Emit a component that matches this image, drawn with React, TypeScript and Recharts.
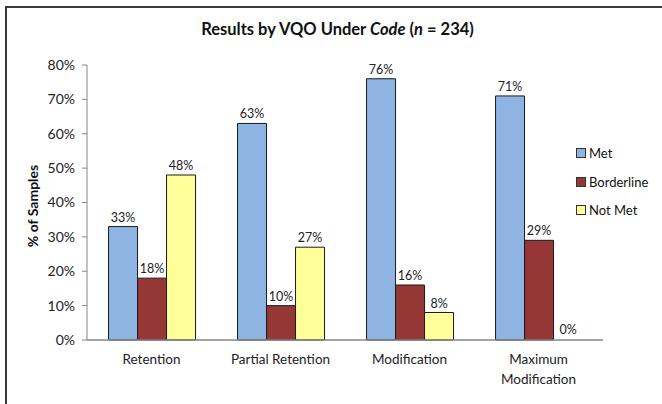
import React from "react";
import { BarChart, Bar, XAxis, YAxis, LabelList, Label, Rectangle } from "recharts";

const categories = ["Retention", "Partial Retention", "Modification", "Maximum Modification"];
const met = [33, 63, 76, 71];
const borderline = [18, 10, 16, 29];
const notMet = [48, 27, 8, 0];
const yTicks = [0, 10, 20, 30, 40, 50, 60, 70, 80];
const boundaryTicks = [0, 1, 2, 3, 4];

const seriesInfo = [
  { key: "met", name: "Met", color: "#8DB4E2" },
  { key: "borderline", name: "Borderline", color: "#953735" },
  { key: "notMet", name: "Not Met", color: "#FFFF99" },
];

const data = categories.map((c, i) => ({
  category: c,
  met: met[i],
  borderline: borderline[i],
  notMet: notMet[i],
}));

const FONT = "Lato, 'Open Sans', sans-serif";
const AXIS_GRAY = "#868686";

// wraps "Maximum Modification" onto two lines like Excel does
const CategoryTick = (props: any) => {
  const { x, y, payload } = props;
  const words = String(payload.value).split(" ");
  const lines = payload.value === "Maximum Modification" ? words : [payload.value];
  return (
    <text x={x} y={y} textAnchor="middle" fontSize={13.5} fill="#222" fontFamily={FONT}>
      {lines.map((l: string, i: number) => (
        <tspan key={i} x={x} dy={i === 0 ? 16 : 20}>
          {l}
        </tspan>
      ))}
    </text>
  );
};

const pct = (v: any) => `${v}%`;

// own label renderer so the 0% bar still gets its label
const BarValue = (p: any) => {
  const { x, y, width, value } = p;
  if (value == null) return null;
  return (
    <text
      x={Number(x) + Number(width) / 2}
      y={Number(y) - 5}
      textAnchor="middle"
      fontSize={12.5}
      fill="#222"
      fontFamily={FONT}
    >
      {pct(value)}
    </text>
  );
};

export default function App() {
  return (
    <div style={{ position: "fixed", left: 0, top: 0, width: 662, height: 404, background: "#fff", fontFamily: FONT }}>
      <div
        style={{
          position: "absolute",
          left: 5,
          top: 6,
          width: 700,
          height: 500,
          borderLeft: "2px solid #3a3a3a",
          borderTop: "2px solid #3a3a3a",
        }}
      />
      <div
        style={{
          position: "absolute",
          left: 0,
          width: 675,
          top: 19,
          textAlign: "center",
          fontWeight: 700,
          fontSize: 16.5,
          color: "#111",
        }}
      >
        Results by VQO Under <i>Code</i> (<i>n</i> = 234)
      </div>
      <div style={{ position: "absolute", left: 576, top: 139, fontSize: 13, color: "#111" }}>
        {seriesInfo.map((s) => (
          <div key={s.key} style={{ display: "flex", alignItems: "center", height: 28.5 }}>
            <span
              style={{
                display: "inline-block",
                width: 8,
                height: 8,
                background: s.color,
                border: "1px solid #333",
                marginRight: 3,
              }}
            />
            {s.name}
          </div>
        ))}
      </div>
      <div style={{ position: "absolute", left: 0, top: 0 }}>
        <BarChart
          width={662}
          height={404}
          data={data}
          margin={{ top: 65, right: 59, bottom: 24, left: 0 }}
          barCategoryGap="16.7%"
          barGap={0}
        >
          <XAxis
            xAxisId="bounds"
            type="number"
            domain={[0, 4]}
            ticks={boundaryTicks}
            allowDataOverflow
            height={0}
            axisLine={false}
            tickLine={{ stroke: AXIS_GRAY }}
            tickSize={5}
            tick={() => <g />}
          />
          <XAxis
            xAxisId="cat"
            dataKey="category"
            height={40}
            interval={0}
            axisLine={{ stroke: AXIS_GRAY, strokeWidth: 1.5 }}
            tickLine={false}
            tick={<CategoryTick />}
          />
          <YAxis
            width={87}
            domain={[0, 80]}
            ticks={yTicks}
            tickFormatter={pct}
            axisLine={{ stroke: AXIS_GRAY }}
            tickLine={{ stroke: AXIS_GRAY }}
            tickSize={5}
            tick={{ fontSize: 14, fill: "#222", fontFamily: FONT, dx: -5 }}
            interval={0}
          >
            <Label
              content={() => (
                <text
                  x={38}
                  y={206}
                  transform="rotate(-90 38 206)"
                  textAnchor="middle"
                  fontSize={14}
                  fontWeight={700}
                  fill="#111"
                  fontFamily={FONT}
                >
                  % of Samples
                </text>
              )}
            />
          </YAxis>
          {seriesInfo.map((s) => (
            <Bar
              key={s.key}
              xAxisId="cat"
              dataKey={s.key}
              name={s.name}
              fill={s.color}
              stroke="#1a1a1a"
              strokeWidth={1}
              minPointSize={(v: any) => (v === 0 ? 1 : 0)}
              shape={(p: any) =>
                p.payload && p.payload[s.key] === 0 ? <g /> : <Rectangle {...p} />
              }
              isAnimationActive={false}
            >
              <LabelList dataKey={s.key} content={<BarValue />} />
            </Bar>
          ))}
        </BarChart>
      </div>
    </div>
  );
}
